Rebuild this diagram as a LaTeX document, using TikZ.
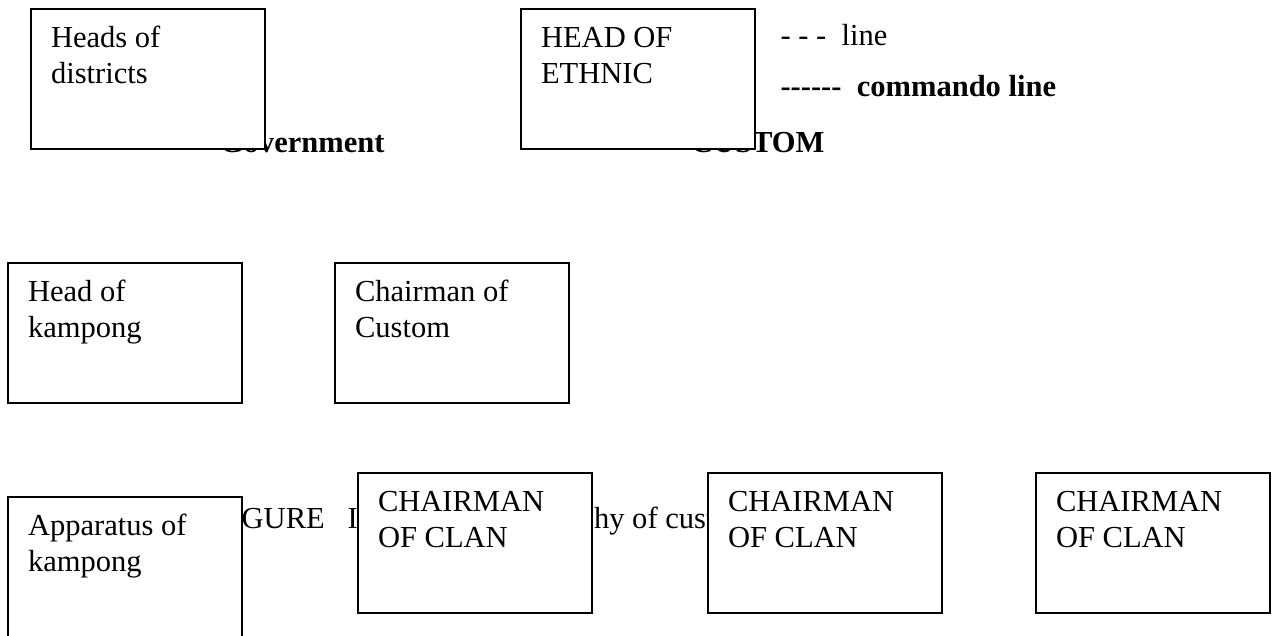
\documentclass[tikz,border=0pt]{standalone}
\usepackage{fontspec}
\setmainfont{Liberation Serif}
\usepackage{tikz}

\newcommand{\chartfont}{\fontsize{22.9pt}{27pt}\selectfont}
\newcommand{\boxlines}[2][145.5pt]{\parbox[c][85pt][t]{#1}{\strut#2}}

\tikzset{
  unit box/.style={
    rectangle, draw=black, fill=white, anchor=north west,
    inner xsep=15pt, inner ysep=10pt, outer sep=0pt, font=\chartfont
  },
  plain label/.style={
    inner sep=0pt, anchor=base west, font=\chartfont
  },
  bold label/.style={
    inner sep=0pt, font=\chartfont\bfseries
  }
}

\begin{document}
\begin{tikzpicture}[x=0.75pt, y=-0.75pt, line width=0.8pt]
\useasboundingbox (0,0) rectangle (1277,635);

% ---------------------------
% headings and caption (under the boxes)
% ---------------------------
\node[bold label, anchor=base east] (gov) at (385,152) {Government};
\node[bold label, anchor=base east] (cust) at (825,152) {CUSTOM};
\node[plain label] (fig) at (214,528) {FIGURE\ \ \ I};
\node[plain label] (hier) at (502,528) {Hierarchy of custom};

% ---------------------------
% legend
% ---------------------------
\node[plain label] (keyA) at (780,46) {- - -\ \ line};
\node[bold label, anchor=base west] (keyB) at (780,97) {-{}-{}-{}-{}-{}-\ \ commando line};

% ---------------------------
% top row
% ---------------------------
\node[unit box] (dist) at (31,9) {\boxlines{Heads of\\districts}};
\node[unit box] (ethnic) at (521,9) {\boxlines{HEAD OF\\ETHNIC}};

% ---------------------------
% middle row
% ---------------------------
\node[unit box] (headk) at (8,263) {\boxlines{Head of\\kampong}};
\node[unit box] (chair) at (335,263) {\boxlines{Chairman of\\Custom}};

% ---------------------------
% bottom row
% ---------------------------
\node[unit box] (appar) at (8,497) {\boxlines{Apparatus of\\kampong}};
\node[unit box] (clanA) at (358,473) {\boxlines{CHAIRMAN\\OF CLAN}};
\node[unit box] (clanB) at (708,473) {\boxlines{CHAIRMAN\\OF CLAN}};
\node[unit box] (clanC) at (1036,473) {\boxlines{CHAIRMAN\\OF CLAN}};

\end{tikzpicture}
\end{document}
